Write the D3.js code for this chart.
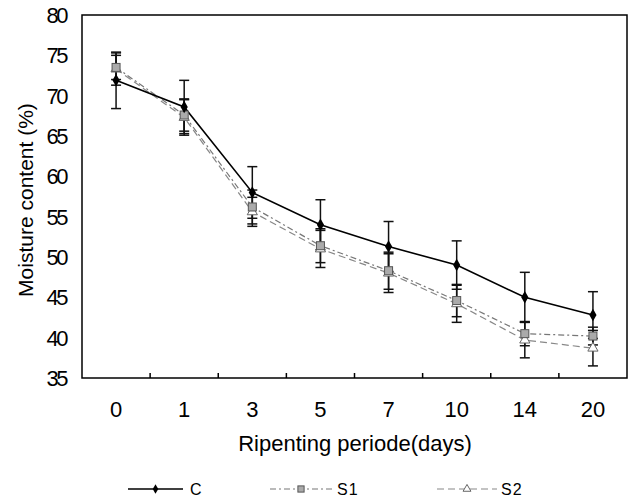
<!DOCTYPE html>
<html><head><meta charset="utf-8">
<script src="https://cdn.jsdelivr.net/npm/d3@7"></script>
<style>body{margin:0;background:#fff}svg{display:block}text{font-family:"Liberation Sans",Arial,sans-serif}</style>
</head><body>
<svg id="c" width="633" height="501"></svg>
<script>
const categories = ["0","1","3","5","7","10","14","20"];
const yTicks = [35,40,45,50,55,60,65,70,75,80];
const cValues  = [71.9, 68.6, 58.0, 54.0, 51.3, 49.0, 45.0, 42.8];
const cErrors  = [3.5, 3.3, 3.2, 3.1, 3.1, 3.0, 3.1, 2.9];
const s1Values = [73.5, 67.6, 56.2, 51.4, 48.3, 44.6, 40.5, 40.2];
const s1Errors = [1.5, 2.0, 2.1, 2.1, 2.3, 2.0, 1.5, 1.1];
const s2Values = [73.3, 67.3, 55.6, 51.0, 48.0, 44.2, 39.7, 38.7];
const s2Errors = [2.0, 2.2, 1.8, 2.3, 2.4, 2.3, 2.2, 2.2];
const seriesNames = ["C","S1","S2"];

const svg = d3.select("#c");
const L=82, R=627, T=15, B=378;
const x = d3.scaleBand().domain(categories).range([L,R]);
const y = d3.scaleLinear().domain([35,80]).range([B,T]);
const narrow = '"Liberation Sans Narrow","Arial Narrow","Liberation Sans",sans-serif';

svg.append("rect").attr("x",L).attr("y",T).attr("width",R-L).attr("height",B-T)
  .attr("fill","none").attr("stroke","#000").attr("stroke-width",1.5);

categories.slice(1).forEach(c=>{
  svg.append("line").attr("x1",x(c)).attr("x2",x(c)).attr("y1",B).attr("y2",B-5)
    .attr("stroke","#000").attr("stroke-width",1.5);
});
svg.selectAll(".xl").data(categories).enter().append("text")
  .attr("x",d=>x(d)+x.bandwidth()/2).attr("y",417).attr("text-anchor","middle")
  .style("font-family",narrow).attr("font-size",22).text(d=>d);
svg.selectAll(".yl").data(yTicks).enter().append("text")
  .attr("x",66).attr("y",d=>y(d)+8).attr("text-anchor","end")
  .style("font-family",narrow).attr("font-size",22).attr("letter-spacing",-2.5).text(d=>d);

svg.append("text").attr("transform","translate(33,200) rotate(-90)")
  .attr("text-anchor","middle").attr("font-size",21).text("Moisture content (%)");
svg.append("text").attr("x",355).attr("y",451).attr("text-anchor","middle")
  .attr("font-size",22).text("Ripenting periode(days)");

const cx = d => x(d)+x.bandwidth()/2;
const series = [
  {name:"C", v:cValues, e:cErrors, color:"#000", dash:null, w:1.6},
  {name:"S1", v:s1Values, e:s1Errors, color:"#777", dash:"6,3,2,3", w:1.2},
  {name:"S2", v:s2Values, e:s2Errors, color:"#888", dash:"7,4", w:1.2}
];
const line = d3.line().x((d,i)=>cx(categories[i])).y(d=>y(d));

series.forEach(s=>{
  s.v.forEach((v,i)=>{
    const xc = cx(categories[i]);
    const g = svg.append("g").attr("stroke","#111").attr("stroke-width",1.5);
    g.append("line").attr("x1",xc).attr("x2",xc).attr("y1",y(v+s.e[i])).attr("y2",y(v-s.e[i]));
    [v+s.e[i], v-s.e[i]].forEach(t=>g.append("line").attr("x1",xc-5).attr("x2",xc+5).attr("y1",y(t)).attr("y2",y(t)));
  });
});
series.slice().reverse().forEach(s=>{
  svg.append("path").datum(s.v).attr("d",line).attr("fill","none")
    .attr("stroke",s.color).attr("stroke-width",s.w).attr("stroke-dasharray",s.dash);
});
function marker(g, name, xc, yc, k){
  k = k||1;
  if(name==="C"){
    g.append("path").attr("d",d3.symbol(d3.symbolDiamond,45*k)()).attr("transform",`translate(${xc},${yc})`).attr("fill","#000");
  } else if(name==="S1"){
    const h=4*Math.sqrt(k);
    g.append("rect").attr("x",xc-h).attr("y",yc-h).attr("width",2*h).attr("height",2*h)
      .attr("fill","#aaa").attr("stroke","#555").attr("stroke-width",1);
  } else {
    g.append("path").attr("d",d3.symbol(d3.symbolTriangle,45*k)()).attr("transform",`translate(${xc},${yc})`)
      .attr("fill","#fff").attr("stroke","#666").attr("stroke-width",1);
  }
}
series.slice().reverse().forEach(s=>{
  s.v.forEach((v,i)=>marker(svg, s.name, cx(categories[i]), y(v)));
});

const leg = [{x1:128,x2:183,t:190},{x1:270,x2:332,t:337},{x1:437,x2:497,t:501}];
series.forEach((s,i)=>{
  const l = leg[i], ly = 489;
  svg.append("line").attr("x1",l.x1).attr("x2",l.x2).attr("y1",ly).attr("y2",ly)
    .attr("stroke",s.color).attr("stroke-width",s.w).attr("stroke-dasharray",s.dash);
  marker(svg, s.name, (l.x1+l.x2)/2, ly, 0.6);
  svg.append("text").attr("x",l.t).attr("y",ly+6).attr("font-size",16).attr("letter-spacing",1).text(seriesNames[i]);
});
</script>
</body></html>
